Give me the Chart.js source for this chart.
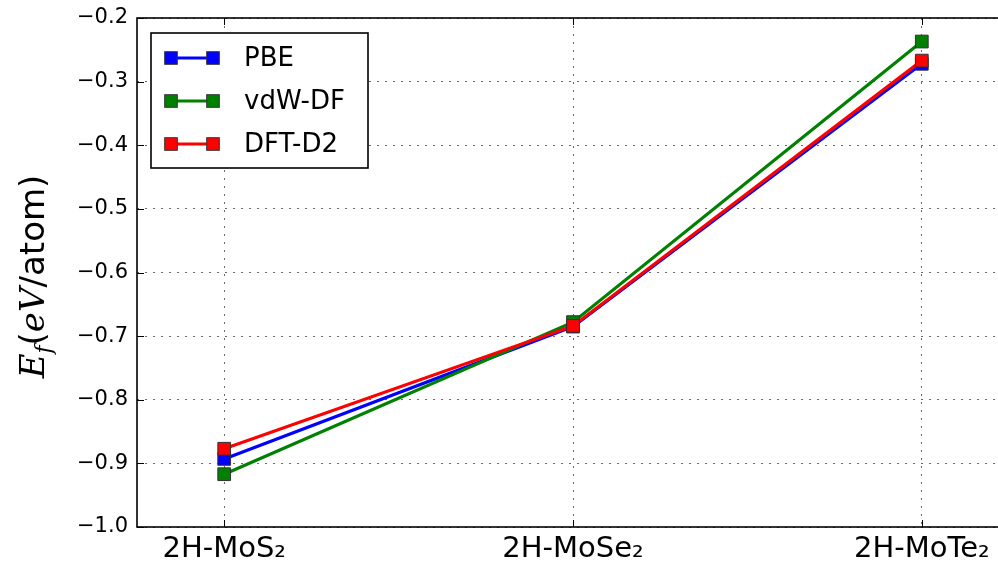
<!DOCTYPE html>
<html>
<head>
<meta charset="utf-8">
<script src="https://cdn.jsdelivr.net/npm/chart.js@4.4.0/dist/chart.umd.min.js"></script>
<style>
  html, body { margin: 0; padding: 0; background: #fff; overflow: hidden; width: 998px; height: 569px; }
  canvas { display: block; }
</style>
</head>
<body>
<canvas id="c" width="1019" height="569" style="width:1019px;height:569px"></canvas>
<script>
// Formation energy per atom of the 2H molybdenum dichalcogenides
const categories = ['2H-MoS\u2082', '2H-MoSe\u2082', '2H-MoTe\u2082'];
const seriesNames = ['PBE', 'vdW-DF', 'DFT-D2'];
const pbeValues = [-0.893, -0.685, -0.272];
const vdwdfValues = [-0.917, -0.678, -0.237];
const dftd2Values = [-0.877, -0.684, -0.267];
const seriesColors = ['#0000ff', '#008000', '#ff0000'];
const yTickValues = [-1.0, -0.9, -0.8, -0.7, -0.6, -0.5, -0.4, -0.3, -0.2];

const FONT = "'DejaVu Sans', 'Liberation Sans', sans-serif";
const SERIF = "'DejaVu Serif', 'Liberation Serif', serif";

const allSeries = [pbeValues, vdwdfValues, dftd2Values];

const datasets = allSeries.map((vals, i) => ({
  label: seriesNames[i],
  data: vals.map((v, k) => ({ x: k, y: v })),
  borderColor: seriesColors[i],
  backgroundColor: seriesColors[i],
  borderWidth: 3.2,
  pointStyle: 'rect',
  pointRadius: 9,
  pointBorderWidth: 1,
  pointBorderColor: '#333333',
  pointBackgroundColor: seriesColors[i],
  tension: 0,
  order: 3 - i
}));

// axes frame with inward tick marks
const framePlugin = {
  id: 'frame',
  afterDatasetsDraw(chart) {
    const { ctx, chartArea: a, scales } = chart;
    ctx.save();
    ctx.strokeStyle = '#000';
    ctx.lineWidth = 1;
    ctx.beginPath();
    scales.y.ticks.forEach(t => {
      const y = Math.round(scales.y.getPixelForValue(t.value)) + 0.5;
      ctx.moveTo(a.left, y); ctx.lineTo(a.left + 7, y);
      ctx.moveTo(a.right, y); ctx.lineTo(a.right - 7, y);
    });
    scales.x.ticks.forEach(t => {
      const x = Math.round(scales.x.getPixelForValue(t.value)) + 0.5;
      ctx.moveTo(x, a.bottom); ctx.lineTo(x, a.bottom - 7);
      ctx.moveTo(x, a.top); ctx.lineTo(x, a.top + 7);
    });
    ctx.stroke();
    ctx.lineWidth = 1.6;
    ctx.strokeRect(a.left, a.top, a.right - a.left, a.bottom - a.top);
    ctx.restore();
  }
};

// boxed legend: a line segment with a marker at each end
const legendPlugin = {
  id: 'boxLegend',
  afterDraw(chart) {
    const { ctx } = chart;
    const bx = 151, by = 33, bw = 217, bh = 135;
    ctx.save();
    ctx.fillStyle = '#fff';
    ctx.fillRect(bx, by, bw, bh);
    ctx.strokeStyle = '#000';
    ctx.lineWidth = 1.6;
    ctx.strokeRect(bx, by, bw, bh);
    chart.data.datasets.forEach((ds, i) => {
      const y = 58 + i * 43;
      const x0 = 171, x1 = 213;
      ctx.strokeStyle = ds.borderColor;
      ctx.lineWidth = 3;
      ctx.beginPath(); ctx.moveTo(x0, y); ctx.lineTo(x1, y); ctx.stroke();
      [x0, x1].forEach(x => {
        ctx.fillStyle = ds.borderColor;
        ctx.fillRect(x - 6.3, y - 6.3, 12.6, 12.6);
        ctx.strokeStyle = '#333';
        ctx.lineWidth = 1;
        ctx.strokeRect(x - 6.3, y - 6.3, 12.6, 12.6);
      });
      ctx.fillStyle = '#000';
      ctx.font = '26px ' + FONT;
      ctx.textBaseline = 'middle';
      ctx.textAlign = 'left';
      ctx.fillText(ds.label, 244, y + 1);
    });
    ctx.restore();
  }
};

// rotated y-axis title with math-style E_f and eV
const yTitlePlugin = {
  id: 'yTitle',
  afterDraw(chart) {
    const { ctx, chartArea: a } = chart;
    const parts = [
      { t: 'E', f: 'italic 34px ' + SERIF, dy: 0 },
      { t: 'f', f: 'italic 22px ' + SERIF, dy: 7 },
      { t: '(', f: '34px ' + FONT, dy: 0 },
      { t: 'eV', f: 'italic 34px ' + SERIF, dy: 0 },
      { t: '/atom)', f: '34px ' + FONT, dy: 0 }
    ];
    ctx.save();
    let total = 0;
    parts.forEach(p => { ctx.font = p.f; p.w = ctx.measureText(p.t).width; total += p.w; });
    const cy = (a.top + a.bottom) / 2 + 4;
    ctx.translate(44, cy);
    ctx.rotate(-Math.PI / 2);
    ctx.fillStyle = '#000';
    ctx.textBaseline = 'alphabetic';
    ctx.textAlign = 'left';
    let x = -total / 2;
    parts.forEach(p => {
      ctx.font = p.f;
      ctx.fillText(p.t, x, p.dy);
      x += p.w;
    });
    ctx.restore();
  }
};

new Chart(document.getElementById('c'), {
  type: 'line',
  data: { datasets },
  options: {
    responsive: false,
    animation: false,
    devicePixelRatio: 1,
    layout: { padding: { top: 18, right: 3, left: 0, bottom: 0 } },
    plugins: { legend: { display: false }, tooltip: { enabled: false } },
    scales: {
      x: {
        type: 'linear',
        min: -0.25,
        max: 2.25,
        afterBuildTicks: s => { s.ticks = categories.map((_, i) => ({ value: i })); },
        afterFit: s => { s.height = 42; s.paddingLeft = 0; s.paddingRight = 0; },
        ticks: {
          callback: v => categories[v] !== undefined ? categories[v] : '',
          color: '#000',
          font: { family: FONT, size: 29 },
          padding: 5,
          maxRotation: 0,
          autoSkip: false
        },
        grid: { color: '#6a6a6a', lineWidth: 1, drawTicks: false },
        border: { display: false, dash: [2, 6] }
      },
      y: {
        min: -1.0,
        max: -0.2,
        afterBuildTicks: s => { s.ticks = yTickValues.map(v => ({ value: v })); },
        afterFit: s => { s.width = 137; s.paddingTop = 0; s.paddingBottom = 0; },
        ticks: {
          callback: v => (v < 0 ? '\u2212' : '') + Math.abs(v).toFixed(1),
          color: '#000',
          font: { family: FONT, size: 21 },
          padding: 9
        },
        grid: { color: '#6a6a6a', lineWidth: 1, drawTicks: false },
        border: { display: false, dash: [2, 6] }
      }
    }
  },
  plugins: [framePlugin, legendPlugin, yTitlePlugin]
});
</script>
</body>
</html>
